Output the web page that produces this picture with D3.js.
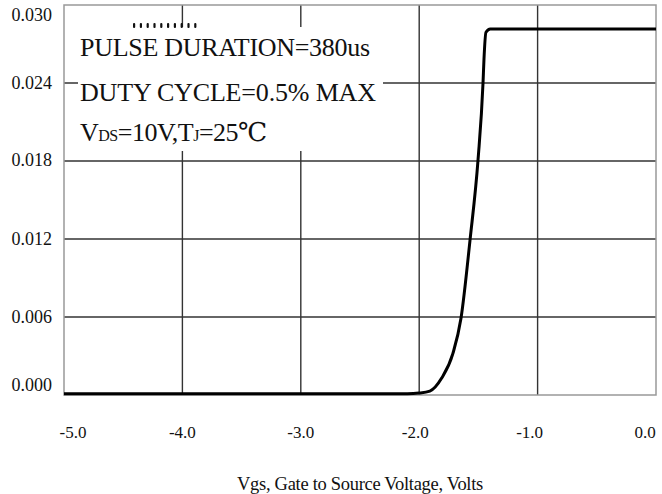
<!DOCTYPE html>
<html><head><meta charset="utf-8">
<script src="https://cdn.jsdelivr.net/npm/d3@7"></script>
<style>html,body{margin:0;padding:0;background:#fff} svg text{font-family:"Liberation Serif","DejaVu Serif","Times New Roman",serif;}</style>
</head><body>
<script>
const vgs = [-5.0, -4.5, -4.0, -3.5, -3.0, -2.5, -2.1, -2.0, -1.91, -1.81, -1.715, -1.647, -1.571, -1.503, -1.461, -1.453, -1.436, -1.40, -1.0, -0.5, 0.0];
const idA = [0.0001, 0.0001, 0.0001, 0.0001, 0.0001, 0.0001, 0.0001, 0.00015, 0.0003, 0.0013, 0.0032, 0.0059, 0.0119, 0.0181, 0.0240, 0.0258, 0.0279, 0.02815, 0.02815, 0.02815, 0.02815];
const xTicks = [-5.0, -4.0, -3.0, -2.0, -1.0, 0.0];
const xTickLabels = ["-5.0", "-4.0", "-3.0", "-2.0", "-1.0", "0.0"];
const yTicks = [0, 0.006, 0.012, 0.018, 0.024, 0.030];
const yTickLabels = ["0.000", "0.006", "0.012", "0.018", "0.024", "0.030"];
const notes = ["PULSE DURATION=380us", "DUTY CYCLE=0.5% MAX"];
const xTitle = "Vgs, Gate to Source Voltage, Volts";

const W = 662, H = 494;
const L = 64, R = 656, T = 5, B = 395;
const FF = "'Liberation Serif','DejaVu Serif','Times New Roman',serif";
const svg = d3.select("body").append("svg").attr("width", W).attr("height", H);
const x = d3.scaleLinear().domain([-5, 0]).range([L, R]);
const y = d3.scaleLinear().domain([0, 0.030]).range([B, T]);

// grid
svg.append("g").selectAll("line").data(xTicks.slice(1, -1)).join("line")
  .attr("x1", d => x(d)).attr("x2", d => x(d)).attr("y1", T).attr("y2", B)
  .attr("stroke", "#333").attr("stroke-width", 1.4);
svg.append("g").selectAll("line").data(yTicks.slice(1, -1)).join("line")
  .attr("x1", L).attr("x2", R).attr("y1", d => y(d)).attr("y2", d => y(d))
  .attr("stroke", "#333").attr("stroke-width", 1.4);

// white box behind annotation
svg.append("rect").attr("x", 78).attr("y", 27).attr("width", 305).attr("height", 124).attr("fill", "#fff");

// frame
svg.append("rect").attr("x", L).attr("y", T).attr("width", R - L).attr("height", B - T)
  .attr("fill", "none").attr("stroke", "#999").attr("stroke-width", 1.5);

// curve
const line = d3.line().x((d, i) => x(vgs[i])).y((d, i) => y(d)).curve(d3.curveMonotoneX);
svg.append("path").datum(idA).attr("d", line).attr("fill", "none")
  .attr("stroke", "#000").attr("stroke-width", 3).attr("stroke-linejoin", "round");

// y tick labels (top/bottom nudged inward as in reference)
const yOff = [-10, 0, 0, -1, 0, 10];
svg.append("g").selectAll("text").data(yTicks).join("text")
  .attr("font-family", FF)
  .attr("x", 52).attr("y", (d, i) => y(d) + 6 + yOff[i]).attr("text-anchor", "end")
  .attr("font-size", 18).attr("fill", "#111").text((d, i) => yTickLabels[i]);

// x tick labels
const xOff = [9, 0, 0, -4, -8, -11];
svg.append("g").selectAll("text").data(xTicks).join("text")
  .attr("font-family", FF)
  .attr("x", (d, i) => x(d) + xOff[i]).attr("y", 438).attr("text-anchor", "middle")
  .attr("font-size", 17).attr("fill", "#111").text((d, i) => xTickLabels[i]);

// x title
svg.append("text").attr("font-family", FF).attr("x", 360).attr("y", 490).attr("text-anchor", "middle")
  .attr("font-size", 18.5).attr("fill", "#111").attr("letter-spacing", -0.3).text(xTitle);

// annotations
const noteLen = [290, 296];
svg.append("g").selectAll("text").data(notes).join("text")
  .attr("font-family", FF)
  .attr("x", 80).attr("y", (d, i) => 56 + i * 45).attr("font-size", 26)
  .attr("textLength", (d, i) => noteLen[i]).attr("lengthAdjust", "spacing")
  .attr("fill", "#111").text(d => d);
const t3 = svg.append("text").attr("font-family", FF).attr("x", 80).attr("y", 141).attr("font-size", 26).attr("fill", "#111").attr("letter-spacing", -0.5);
t3.append("tspan").text("V");
t3.append("tspan").attr("font-size", 16).text("DS");
t3.append("tspan").text("=10V,T");
t3.append("tspan").attr("font-size", 16).text("J");
t3.append("tspan").text("=25\u2103");

// small marks above text
svg.append("g").selectAll("rect").data(d3.range(10)).join("rect")
  .attr("x", d => 133 + d * 6.8).attr("y", 23).attr("width", 2.2).attr("height", 5)
  .attr("rx", 1).attr("fill", "#111");
</script>
</body></html>
